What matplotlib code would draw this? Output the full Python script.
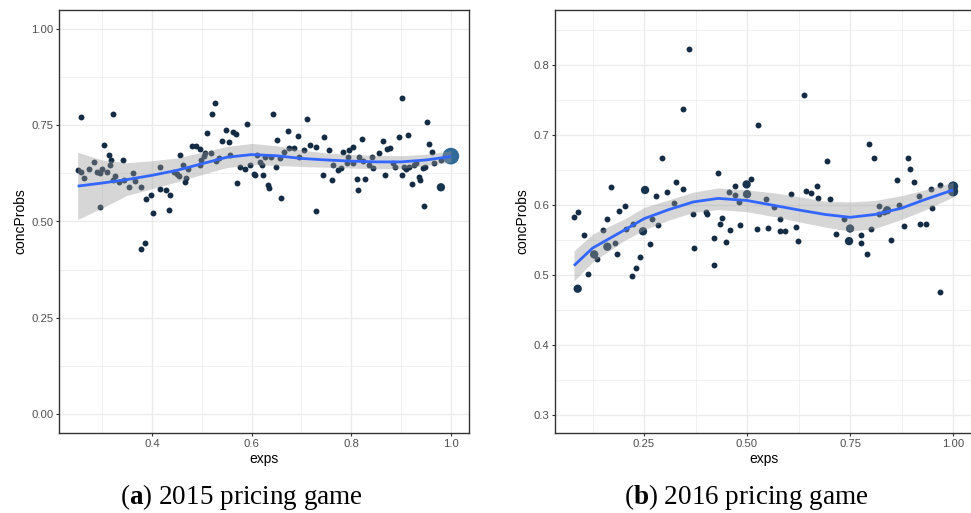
import matplotlib
matplotlib.use('Agg')
import matplotlib.pyplot as plt
from matplotlib.colors import LinearSegmentedColormap, Normalize

# ---- 2015 pricing game ----
exps_2015 = [0.257, 0.321, 0.251, 0.257, 0.263, 0.273, 0.283, 0.289, 0.295, 0.299,
             0.309, 0.315, 0.317, 0.313, 0.304, 0.321, 0.326, 0.334, 0.342, 0.345,
             0.354, 0.362, 0.367, 0.379, 0.295, 0.389, 0.398, 0.403, 0.416, 0.416,
             0.429, 0.437, 0.434, 0.378, 0.387, 0.444, 0.451, 0.455, 0.457, 0.463,
             0.472, 0.469, 0.467, 0.481, 0.489, 0.497,
             0.526, 0.521, 0.511, 0.497, 0.499, 0.505, 0.507, 0.518, 0.528, 0.535,
             0.541, 0.549, 0.555, 0.563, 0.569, 0.557, 0.591, 0.577, 0.586, 0.596,
             0.571, 0.604, 0.607, 0.611, 0.616, 0.620, 0.623, 0.628, 0.633, 0.635,
             0.640, 0.643, 0.649, 0.652, 0.657, 0.659, 0.666, 0.673, 0.676, 0.685,
             0.694, 0.695, 0.705, 0.711, 0.717, 0.729, 0.730, 0.745, 0.744, 0.755,
             0.762, 0.763,
             0.773, 0.780, 0.783, 0.791, 0.795, 0.803, 0.793, 0.803, 0.811, 0.813,
             0.816, 0.822, 0.823, 0.827, 0.835, 0.841, 0.843, 0.855, 0.863, 0.868,
             0.871, 0.877, 0.883, 0.888, 0.895, 0.902, 0.901, 0.905, 0.909, 0.913,
             0.915, 0.923, 0.926, 0.931, 0.937, 0.939, 0.944, 0.947, 0.949, 0.953,
             0.956, 0.963, 0.967, 0.981]
probs_2015 = [0.772, 0.779, 0.635, 0.628, 0.614, 0.637, 0.656, 0.629, 0.625, 0.637,
              0.629, 0.646, 0.659, 0.674, 0.698, 0.609, 0.618, 0.603, 0.661, 0.609,
              0.590, 0.627, 0.605, 0.589, 0.539, 0.558, 0.570, 0.522, 0.641, 0.584,
              0.581, 0.568, 0.531, 0.428, 0.443, 0.629, 0.624, 0.619, 0.672, 0.646,
              0.636, 0.612, 0.604, 0.696, 0.696, 0.688,
              0.807, 0.779, 0.731, 0.648, 0.661, 0.670, 0.677, 0.679, 0.657, 0.666,
              0.709, 0.739, 0.708, 0.733, 0.727, 0.672, 0.753, 0.641, 0.636, 0.647,
              0.601, 0.624, 0.621, 0.672, 0.654, 0.646, 0.621, 0.667, 0.594, 0.587,
              0.668, 0.780, 0.641, 0.712, 0.664, 0.560, 0.682, 0.736, 0.692, 0.692,
              0.722, 0.669, 0.686, 0.767, 0.698, 0.527, 0.694, 0.720, 0.622, 0.687,
              0.609, 0.648,
              0.633, 0.640, 0.682, 0.653, 0.686, 0.694, 0.667, 0.653, 0.611, 0.583,
              0.667, 0.714, 0.658, 0.611, 0.647, 0.668, 0.640, 0.679, 0.709, 0.621,
              0.688, 0.690, 0.653, 0.641, 0.719, 0.822, 0.621, 0.642, 0.637, 0.725,
              0.642, 0.598, 0.646, 0.651, 0.616, 0.607, 0.638, 0.541, 0.643, 0.758,
              0.702, 0.681, 0.652, 0.659]
# points standing for more than one observation
exps_2015_multi = [0.980, 1.0]
probs_2015_multi = [0.589, 0.670]
count_2015_multi = [2, 8]

# loess fit
fit_x_2015 = [0.251, 0.30, 0.35, 0.40, 0.45, 0.50, 0.55, 0.60, 0.65, 0.70, 0.75,
              0.80, 0.85, 0.90, 0.95, 1.0]
fit_y_2015 = [0.592, 0.600, 0.609, 0.620, 0.633, 0.650, 0.667, 0.674, 0.671, 0.664,
              0.660, 0.657, 0.655, 0.655, 0.660, 0.669]
fit_lo_2015 = [0.505, 0.535, 0.568, 0.585, 0.603, 0.622, 0.640, 0.648, 0.646, 0.643,
               0.641, 0.639, 0.637, 0.638, 0.645, 0.655]
fit_hi_2015 = [0.680, 0.660, 0.653, 0.658, 0.665, 0.680, 0.695, 0.703, 0.697, 0.686,
               0.678, 0.674, 0.672, 0.671, 0.675, 0.684]

# ---- 2016 pricing game ----
exps_2016 = [0.360, 0.344, 0.2945, 0.080, 0.090, 0.104, 0.115, 0.135, 0.150, 0.159,
             0.170, 0.180, 0.184, 0.190, 0.205, 0.2055, 0.2225, 0.220, 0.230, 0.2395,
             0.265, 0.270, 0.280, 0.284, 0.305, 0.323, 0.327, 0.345, 0.368, 0.372,
             0.639, 0.526, 0.695, 0.430, 0.510, 0.470, 0.455, 0.470, 0.481, 0.546,
             0.566, 0.606, 0.644, 0.655, 0.670, 0.672, 0.400, 0.403, 0.420, 0.420,
             0.435, 0.440, 0.450, 0.459, 0.483, 0.525, 0.551, 0.579, 0.579, 0.593,
             0.619, 0.6245, 0.701,
             0.796, 0.809, 0.890, 0.896, 0.864, 0.904, 0.947, 0.969, 0.918, 0.868,
             0.833, 0.820, 0.821, 0.950, 0.735, 0.715, 0.776, 0.777, 0.790, 0.800,
             0.850, 0.880, 0.920, 0.934, 0.968]
probs_2016 = [0.822, 0.736, 0.666, 0.583, 0.589, 0.557, 0.501, 0.523, 0.564, 0.579,
              0.625, 0.545, 0.529, 0.591, 0.598, 0.566, 0.573, 0.498, 0.509, 0.526,
              0.544, 0.580, 0.613, 0.571, 0.618, 0.603, 0.633, 0.623, 0.586, 0.538,
              0.757, 0.714, 0.663, 0.645, 0.636, 0.627, 0.618, 0.614, 0.604, 0.608,
              0.597, 0.615, 0.620, 0.616, 0.626, 0.610, 0.589, 0.586, 0.552, 0.514,
              0.573, 0.581, 0.547, 0.564, 0.571, 0.565, 0.567, 0.580, 0.563, 0.563,
              0.568, 0.548, 0.608,
              0.687, 0.667, 0.666, 0.651, 0.635, 0.633, 0.623, 0.628, 0.613, 0.600,
              0.590, 0.598, 0.587, 0.595, 0.580, 0.558, 0.557, 0.546, 0.530, 0.565,
              0.550, 0.569, 0.573, 0.573, 0.476]
exps_2016_multi = [0.089, 0.129, 0.161, 0.2475, 0.2525, 0.499, 0.500, 0.840, 0.750,
                   0.7475, 1.0, 1.0]
probs_2016_multi = [0.480, 0.529, 0.540, 0.562, 0.621, 0.629, 0.615, 0.592, 0.566,
                    0.548, 0.626, 0.619]
count_2016_multi = [2, 2, 2, 2, 2, 2, 2, 2, 2, 2, 3, 3]

fit_x_2016 = [0.080, 0.125, 0.20, 0.25, 0.31, 0.37, 0.43, 0.50, 0.565, 0.63, 0.69,
              0.75, 0.81, 0.875, 0.93, 1.0]
fit_y_2016 = [0.513, 0.538, 0.563, 0.580, 0.593, 0.604, 0.609, 0.606, 0.599, 0.592,
              0.586, 0.582, 0.586, 0.595, 0.607, 0.621]
fit_lo_2016 = [0.491, 0.518, 0.548, 0.564, 0.578, 0.589, 0.593, 0.590, 0.583, 0.575,
               0.568, 0.562, 0.566, 0.579, 0.592, 0.611]
fit_hi_2016 = [0.534, 0.558, 0.579, 0.596, 0.607, 0.618, 0.624, 0.621, 0.617, 0.611,
               0.605, 0.604, 0.606, 0.613, 0.621, 0.632]

captions = [r'($\mathbf{a}$) 2015 pricing game', r'($\mathbf{b}$) 2016 pricing game']

plt.rcParams['font.family'] = ['Liberation Sans', 'DejaVu Sans']
plt.rcParams['mathtext.fontset'] = 'custom'
plt.rcParams['mathtext.rm'] = 'Liberation Serif'
plt.rcParams['mathtext.bf'] = 'Liberation Serif:bold'

cmap = LinearSegmentedColormap.from_list('gg', ['#132B43', '#56B1F7'])
norm = Normalize(vmin=1, vmax=16)


def panel(ax, x, y, mx, my, mc, fx, fy, flo, fhi, xlim, ylim, xmaj, xmin, ymaj, ymin, xfmt, yfmt):
    ax.set_xlim(*xlim)
    ax.set_ylim(*ylim)
    ax.set_xticks(xmaj)
    ax.set_xticks(xmin, minor=True)
    ax.set_yticks(ymaj)
    ax.set_yticks(ymin, minor=True)
    ax.set_xticklabels([xfmt % v for v in xmaj])
    ax.set_yticklabels([yfmt % v for v in ymaj])
    ax.grid(True, which='major', color='#EBEBEB', lw=1.0, zorder=0)
    ax.grid(True, which='minor', color='#EBEBEB', lw=0.5, zorder=0)
    ax.set_axisbelow(True)
    ax.tick_params(which='major', length=2.3, width=0.8, color='#333333',
                   labelsize=8.1, labelcolor='#4D4D4D', pad=1.8)
    ax.tick_params(which='minor', length=0)
    for s in ax.spines.values():
        s.set_color('#333333')
        s.set_linewidth(1.0)

    ax.scatter(x, y, s=18, color=cmap(norm(1)), lw=0, zorder=2)
    ax.scatter(mx, my, s=[18 * c for c in mc], color=[cmap(norm(c)) for c in mc], lw=0, zorder=2)
    ax.fill_between(fx, flo, fhi, color='#999999', alpha=0.4, lw=0, zorder=3)
    ax.plot(fx, fy, color='#3366FF', lw=2.0, zorder=4, solid_capstyle='butt')

    ax.set_xlabel('exps', fontsize=10, color='black', labelpad=2.5)
    ax.set_ylabel('concProbs', fontsize=10, color='black', labelpad=3)


fig = plt.figure(figsize=(9.71, 5.13), dpi=100)
ax1 = fig.add_axes([59 / 971, 1 - 433 / 513, 410 / 971, 423 / 513])
ax2 = fig.add_axes([555.3 / 971, 1 - 433 / 513, 417 / 971, 423 / 513])

panel(ax1, exps_2015, probs_2015, exps_2015_multi, probs_2015_multi, count_2015_multi,
      fit_x_2015, fit_y_2015, fit_lo_2015, fit_hi_2015,
      (0.2136, 1.0364), (-0.05, 1.05),
      [0.4, 0.6, 0.8, 1.0], [0.3, 0.5, 0.7, 0.9],
      [0.0, 0.25, 0.5, 0.75, 1.0], [0.125, 0.375, 0.625, 0.875],
      '%.1f', '%.2f')
panel(ax2, exps_2016, probs_2016, exps_2016_multi, probs_2016_multi, count_2016_multi,
      fit_x_2016, fit_y_2016, fit_lo_2016, fit_hi_2016,
      (0.0347, 1.0466), (0.2739, 0.8781),
      [0.25, 0.5, 0.75, 1.0], [0.125, 0.375, 0.625, 0.875],
      [0.3, 0.4, 0.5, 0.6, 0.7, 0.8], [0.35, 0.45, 0.55, 0.65, 0.75, 0.85],
      '%.2f', '%.1f')

fig.text(241 / 971, 1 - 497 / 513, captions[0], fontsize=19.5, ha='center', va='center',
         family='Liberation Serif')
fig.text(746 / 971, 1 - 497 / 513, captions[1], fontsize=19.5, ha='center', va='center',
         family='Liberation Serif')

fig.savefig('out.png', dpi=100)
